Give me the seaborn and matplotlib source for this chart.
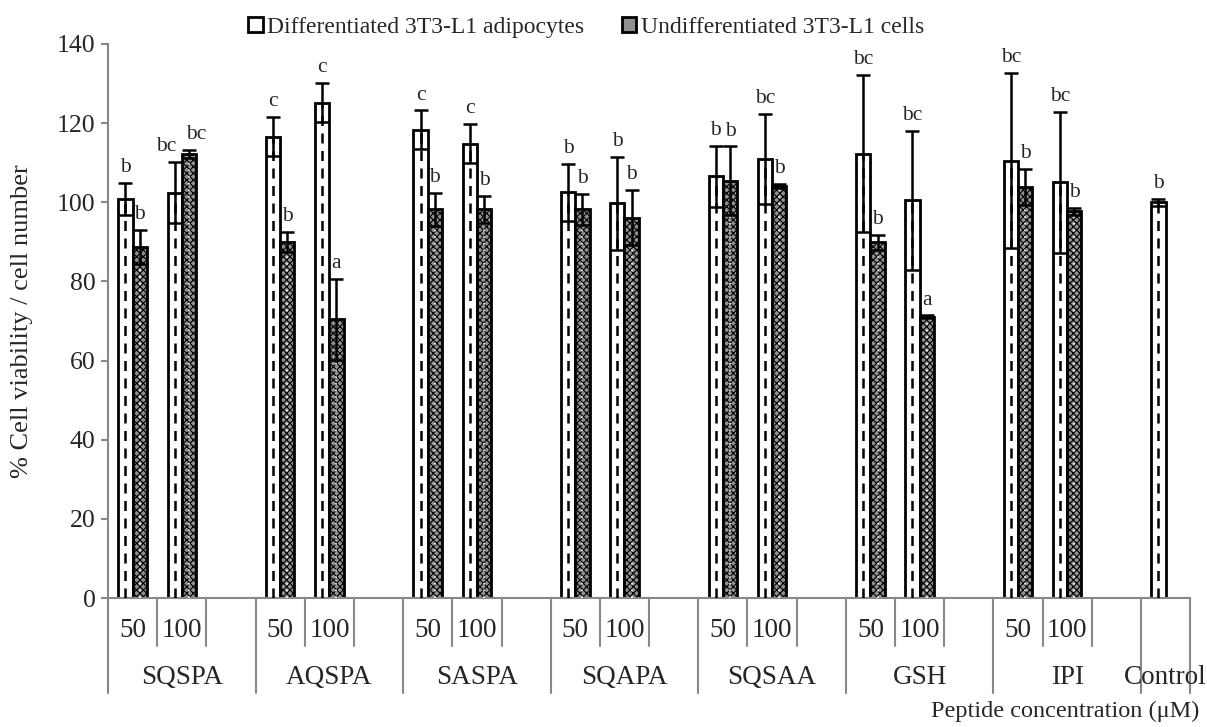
import pandas as pd
import matplotlib
matplotlib.use("Agg")
from matplotlib import pyplot as plt
from matplotlib.transforms import blended_transform_factory
import seaborn as sns

# Peptides, 50 and 100 uM each, plus the control
peptides = ["SQSPA", "AQSPA", "SASPA", "SQAPA", "SQSAA", "GSH", "IPI"]
concs = ["50", "100"]

diff_label = "Differentiated 3T3-L1 adipocytes"
undiff_label = "Undifferentiated 3T3-L1 cells"

diff_means = [100.8, 102.4, 116.6, 125.2, 118.3, 114.8, 102.5, 99.7,
              106.6, 111.0, 112.3, 100.5, 110.5, 105.1, 100.0]
diff_err = [4.1, 7.7, 4.9, 5.0, 4.9, 4.9, 7.2, 11.8,
            7.7, 11.4, 19.9, 17.6, 22.1, 17.8, 0.9]
diff_letters = ["b", "bc", "c", "c", "c", "c", "b", "b",
                "b", "bc", "bc", "bc", "bc", "bc", "b"]

undiff_means = [88.7, 112.2, 89.9, 70.4, 98.2, 98.2, 98.2, 96.1,
                105.5, 104.2, 89.9, 71.1, 103.8, 97.7]
undiff_err = [4.4, 1.1, 2.5, 10.3, 4.2, 3.4, 3.9, 6.9,
              8.6, 0.5, 1.9, 0.3, 4.6, 0.9]
undiff_letters = ["b", "bc", "b", "a", "b", "b", "b", "b",
                  "b", "b", "b", "a", "b", "b"]

# slot order: 50, 100, empty gap for each peptide, then Control
order = []
for p in peptides:
    order += [f"{p} {c}" for c in concs] + [f"{p} gap"]
order.append("Control")

diff_slots = [f"{p} {c}" for p in peptides for c in concs] + ["Control"]
undiff_slots = [f"{p} {c}" for p in peptides for c in concs]

df = pd.concat([
    pd.DataFrame({"slot": diff_slots, "cell": diff_label, "value": diff_means,
                  "err": diff_err, "letter": diff_letters}),
    pd.DataFrame({"slot": undiff_slots, "cell": undiff_label, "value": undiff_means,
                  "err": undiff_err, "letter": undiff_letters}),
], ignore_index=True)
df["top"] = df["value"] + df["err"]

sns.set_theme(style="white")
plt.rcParams["font.family"] = ["Liberation Serif", "DejaVu Serif"]
plt.rcParams["hatch.linewidth"] = 0.8

fig = plt.figure(figsize=(12.07, 7.27), dpi=100)
ax = fig.add_axes([0.0895, 0.1774, 0.8965, 0.7621])

sns.barplot(data=df, x="slot", y="value", hue="cell", order=order,
            hue_order=[diff_label, undiff_label], width=0.58, errorbar=None,
            palette=["white", "#909090"], edgecolor="black", linewidth=2,
            ax=ax)

# slots where two long letter labels would run into each other
tops = df.pivot(index="slot", columns="cell", values="top")
both_long = df.groupby("slot")["letter"].apply(lambda s: len(s) == 2 and all(len(v) > 1 for v in s))
crowded = set(s for s in tops.index
              if both_long.get(s, False)
              and abs(tops.loc[s, diff_label] - tops.loc[s, undiff_label]) < 4)

# patterns, error bars and letters
for cont, (lab, sub) in zip(ax.containers, df.groupby("cell", sort=False)):
    bars = sorted(cont.patches, key=lambda b: b.get_x())
    for b, (_, row) in zip(bars, sub.iterrows()):
        cx = b.get_x() + b.get_width() / 2
        h = b.get_height()
        if lab == diff_label:
            ax.plot([cx, cx], [0, h], color="black", lw=1.8,
                    ls=(0, (4, 3)), zorder=3)
        else:
            b.set_hatch("xxxxx")
            ax.plot([cx, cx], [0, h], color="white", lw=1.2,
                    ls=(0, (1, 3)), zorder=3)
        ax.errorbar(cx, h, yerr=row["err"], color="black", lw=1.8,
                    capsize=5, capthick=1.8, zorder=4)
        tx, ha = cx, "center"
        if row["slot"] in crowded:
            centre = order.index(row["slot"])
            tx, ha = (centre - 0.1, "right") if lab == diff_label else (centre + 0.08, "left")
        ax.text(tx, h + row["err"] + 1.5, row["letter"], ha=ha,
                va="bottom", fontsize=15.5)

ax.set_xlim(-0.5, len(order) - 0.5)
ax.set_ylim(0, 140)
ax.set_yticks(range(0, 141, 20))
ax.tick_params(axis="y", labelsize=18.5, length=5, width=1.5,
               color="#888888", left=True, pad=4)
ax.set_xticks([])
ax.set_xlabel("")
ax.set_ylabel("% Cell viability / cell number", fontsize=19)
ax.yaxis.set_label_coords(-0.069, 0.5)

sns.despine(ax=ax)
for s in ["left", "bottom"]:
    ax.spines[s].set_color("#888888")
    ax.spines[s].set_linewidth(1.5)

# two-level category axis
trans = blended_transform_factory(ax.transData, ax.transAxes)
n = len(order)
for i in range(n + 1):
    long_line = (i % 3 == 0) or i == n
    y_end = -0.1715 if long_line else -0.0866
    ax.plot([i - 0.5, i - 0.5], [0, y_end], color="#888888", lw=1.5,
            transform=trans, clip_on=False)

for i, s in enumerate(order):
    if s.endswith(" 50") or s.endswith(" 100"):
        ax.text(i, -0.058, s.split()[-1], transform=trans, ha="center",
                va="center", fontsize=19.5)

for k, p in enumerate(peptides):
    ax.text(3 * k + 1, -0.1426, p, transform=trans, ha="center",
            va="center", fontsize=19.5)
ax.text(n - 1, -0.1426, "Control", transform=trans, ha="center",
        va="center", fontsize=19.5)

ax.text(1.009, -0.204, "Peptide concentration (μM)", transform=ax.transAxes,
        ha="right", va="center", fontsize=17.5)

handles, labels = ax.get_legend_handles_labels()
ax.legend(handles, labels, loc="center", bbox_to_anchor=(0.442, 1.03),
          ncol=2, frameon=False, fontsize=17, handlelength=0.6,
          handleheight=0.6, handletextpad=0.2, columnspacing=1.6)

fig.savefig("out.png", dpi=100)
